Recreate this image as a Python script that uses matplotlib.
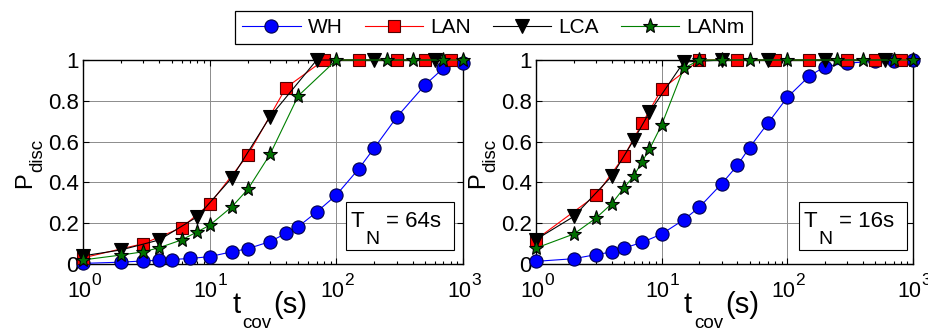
import matplotlib
matplotlib.use("Agg")
import matplotlib.pyplot as plt
from matplotlib.ticker import LogLocator, FixedLocator, NullFormatter
from matplotlib.patches import Rectangle

plt.rcParams['font.family'] = ['Liberation Sans', 'DejaVu Sans']

series_names = ["WH", "LAN", "LCA", "LANm"]

# ---- Left panel (T_N = 64s) ----
left_tn = "64s"
wh_x_L = [1, 2, 3, 4, 5, 7, 10, 15, 20, 30, 40, 50, 70, 100, 150, 200, 300, 500, 700, 1000]
wh_y_L = [0.003, 0.009, 0.015, 0.018, 0.022, 0.027, 0.036, 0.06, 0.075, 0.11, 0.15, 0.183,
          0.255, 0.338, 0.466, 0.57, 0.72, 0.877, 0.96, 0.987]
lan_x_L = [1, 3, 6, 10, 20, 40, 80, 150, 300, 500, 800]
lan_y_L = [0.03, 0.10, 0.178, 0.294, 0.534, 0.864, 1.0, 1.0, 1.0, 1.0, 1.0]
lca_x_L = [1, 2, 4, 8, 15, 30, 70, 200, 600]
lca_y_L = [0.04, 0.069, 0.118, 0.232, 0.423, 0.722, 1.0, 1.0, 1.0]
lanm_x_L = [1, 2, 3, 4, 6, 8, 10, 15, 20, 30, 50, 100, 250, 400, 700, 1000]
lanm_y_L = [0.02, 0.044, 0.06, 0.08, 0.118, 0.158, 0.19, 0.281, 0.366, 0.538, 0.824,
            1.0, 1.0, 1.0, 1.0, 1.0]

# ---- Right panel (T_N = 16s) ----
right_tn = "16s"
wh_x_R = [1, 2, 3, 4, 5, 7, 10, 15, 20, 30, 40, 50, 70, 100, 150, 200, 300, 500, 700, 1000]
wh_y_R = [0.013, 0.026, 0.046, 0.059, 0.078, 0.106, 0.147, 0.217, 0.279, 0.393, 0.483,
          0.571, 0.69, 0.817, 0.922, 0.968, 0.985, 0.993, 0.995, 1.0]
lan_x_R = [1, 3, 5, 7, 10, 20, 40, 80, 150, 300, 500, 800]
lan_y_R = [0.12, 0.336, 0.527, 0.69, 0.857, 1.0, 1.0, 1.0, 1.0, 1.0, 1.0, 1.0]
lca_x_R = [1, 2, 4, 6, 8, 15, 30, 70, 200, 600]
lca_y_R = [0.12, 0.233, 0.43, 0.608, 0.744, 0.99, 1.0, 1.0, 1.0, 1.0]
lanm_x_R = [1, 2, 3, 4, 5, 6, 7, 8, 10, 15, 20, 30, 50, 100, 250, 400, 700, 1000]
lanm_y_R = [0.078, 0.147, 0.225, 0.295, 0.372, 0.432, 0.502, 0.563, 0.682, 0.96, 1.0,
            1.0, 1.0, 1.0, 1.0, 1.0, 1.0, 1.0]

yticks = [0, 0.2, 0.4, 0.6, 0.8, 1]
ytick_labels = ["0", "0.2", "0.4", "0.6", "0.8", "1"]
xtick_exponents = [0, 1, 2, 3]

styles = [
    dict(color="blue", marker="o", mfc="blue", mec="#00004d", ms=9.5),
    dict(color="red", marker="s", mfc="red", mec="#500000", ms=9),
    dict(color="black", marker="v", mfc="black", mec="black", ms=10.5),
    dict(color="green", marker="*", mfc="#007000", mec="black", ms=11),
]

W, H = 929, 331
fig = plt.figure(figsize=(W / 100, H / 100), dpi=100)


def fx(px):
    return px / W


def fy(py):
    return 1 - py / H


def add_ax(x0, x1, y0, y1):
    return fig.add_axes([fx(x0), fy(y1), (x1 - x0) / W, (y1 - y0) / H])


axL = add_ax(83, 463, 60, 264)
axR = add_ax(536, 913, 60, 264)

panels = [
    (axL, 83, 463, [(wh_x_L, wh_y_L), (lan_x_L, lan_y_L), (lca_x_L, lca_y_L), (lanm_x_L, lanm_y_L)], left_tn),
    (axR, 536, 913, [(wh_x_R, wh_y_R), (lan_x_R, lan_y_R), (lca_x_R, lca_y_R), (lanm_x_R, lanm_y_R)], right_tn),
]

AX_BOTTOM = 264
handles = []
for ax, x0, x1, data, tn in panels:
    hs = []
    for (xs, ys), st, name in zip(data, styles, series_names):
        h, = ax.plot(xs, ys, lw=0.8, color=st["color"], marker=st["marker"],
                     markerfacecolor=st["mfc"], markeredgecolor=st["mec"],
                     markersize=st["ms"], markeredgewidth=0.8, label=name,
                     clip_on=False, zorder=3)
        hs.append(h)
    handles = hs
    ax.set_xscale("log")
    ax.set_xlim(1, 1000)
    ax.set_ylim(0, 1)
    ax.set_yticks(yticks)
    ax.set_yticklabels(ytick_labels)
    ax.xaxis.set_major_locator(FixedLocator([10 ** e for e in xtick_exponents]))
    ax.xaxis.set_minor_locator(LogLocator(base=10, subs=range(2, 10)))
    ax.xaxis.set_minor_formatter(NullFormatter())
    ax.set_xticklabels([])
    ax.grid(True, which="major", color="#8c8c8c", lw=0.7, ls="-")
    ax.tick_params(which="both", direction="in", top=True, right=True,
                   labelsize=16, pad=3)
    ax.tick_params(which="major", length=4, width=0.8)
    ax.tick_params(which="minor", length=2.5, width=0.8)
    for sp in ax.spines.values():
        sp.set_linewidth(1.0)

    # x tick labels: "10" with a large superscript exponent
    for e in xtick_exponents:
        tx = ax.transData.transform((10 ** e, 0.5))[0]
        fig.text(fx(tx + 8), fy(AX_BOTTOM + 33), "10", fontsize=15.5,
                 ha="right", va="baseline")
        fig.text(fx(tx + 8), fy(AX_BOTTOM + 21), str(e), fontsize=12.5,
                 ha="left", va="baseline")

    # x label: t_cov (s)
    xc = (x0 + x1) / 2 - 3
    start = xc - 37.5
    fig.text(fx(start), fy(313), "t", fontsize=21, ha="left", va="baseline")
    fig.text(fx(start + 10), fy(328), "cov", fontsize=13.5, ha="left", va="baseline")
    fig.text(fx(start + 41), fy(313), "(s)", fontsize=21, ha="left", va="baseline")

    # y label: P_disc (rotated)
    fig.text(fx(x0 - 52), fy(188), "P", fontsize=17, rotation=90,
             rotation_mode="anchor", ha="left", va="baseline")
    fig.text(fx(x0 - 41), fy(172), "disc", fontsize=13.5, rotation=90,
             rotation_mode="anchor", ha="left", va="baseline")

    # T_N box
    bl = x0 + 263
    box = Rectangle((fx(bl), fy(250)), 108 / W, 48 / H, transform=fig.transFigure,
                    fc="white", ec="black", lw=0.8, zorder=5)
    fig.add_artist(box)
    fig.text(fx(bl + 5), fy(227), "T", fontsize=16, ha="left", va="baseline", zorder=6)
    fig.text(fx(bl + 19.5), fy(244), "N", fontsize=14, ha="left", va="baseline", zorder=6)
    fig.text(fx(bl + 40), fy(227), "= " + tn, fontsize=16, ha="left", va="baseline", zorder=6)

fig.legend(handles=handles, loc="center", ncol=4,
           bbox_to_anchor=(fx(493.5), fy(27.5)), fontsize=15, frameon=True,
           fancybox=False, edgecolor="black", framealpha=1,
           handlelength=2.8, columnspacing=1.05, handletextpad=0.35,
           borderpad=0.35).get_frame().set_linewidth(0.9)

fig.savefig("out.png", dpi=100)
